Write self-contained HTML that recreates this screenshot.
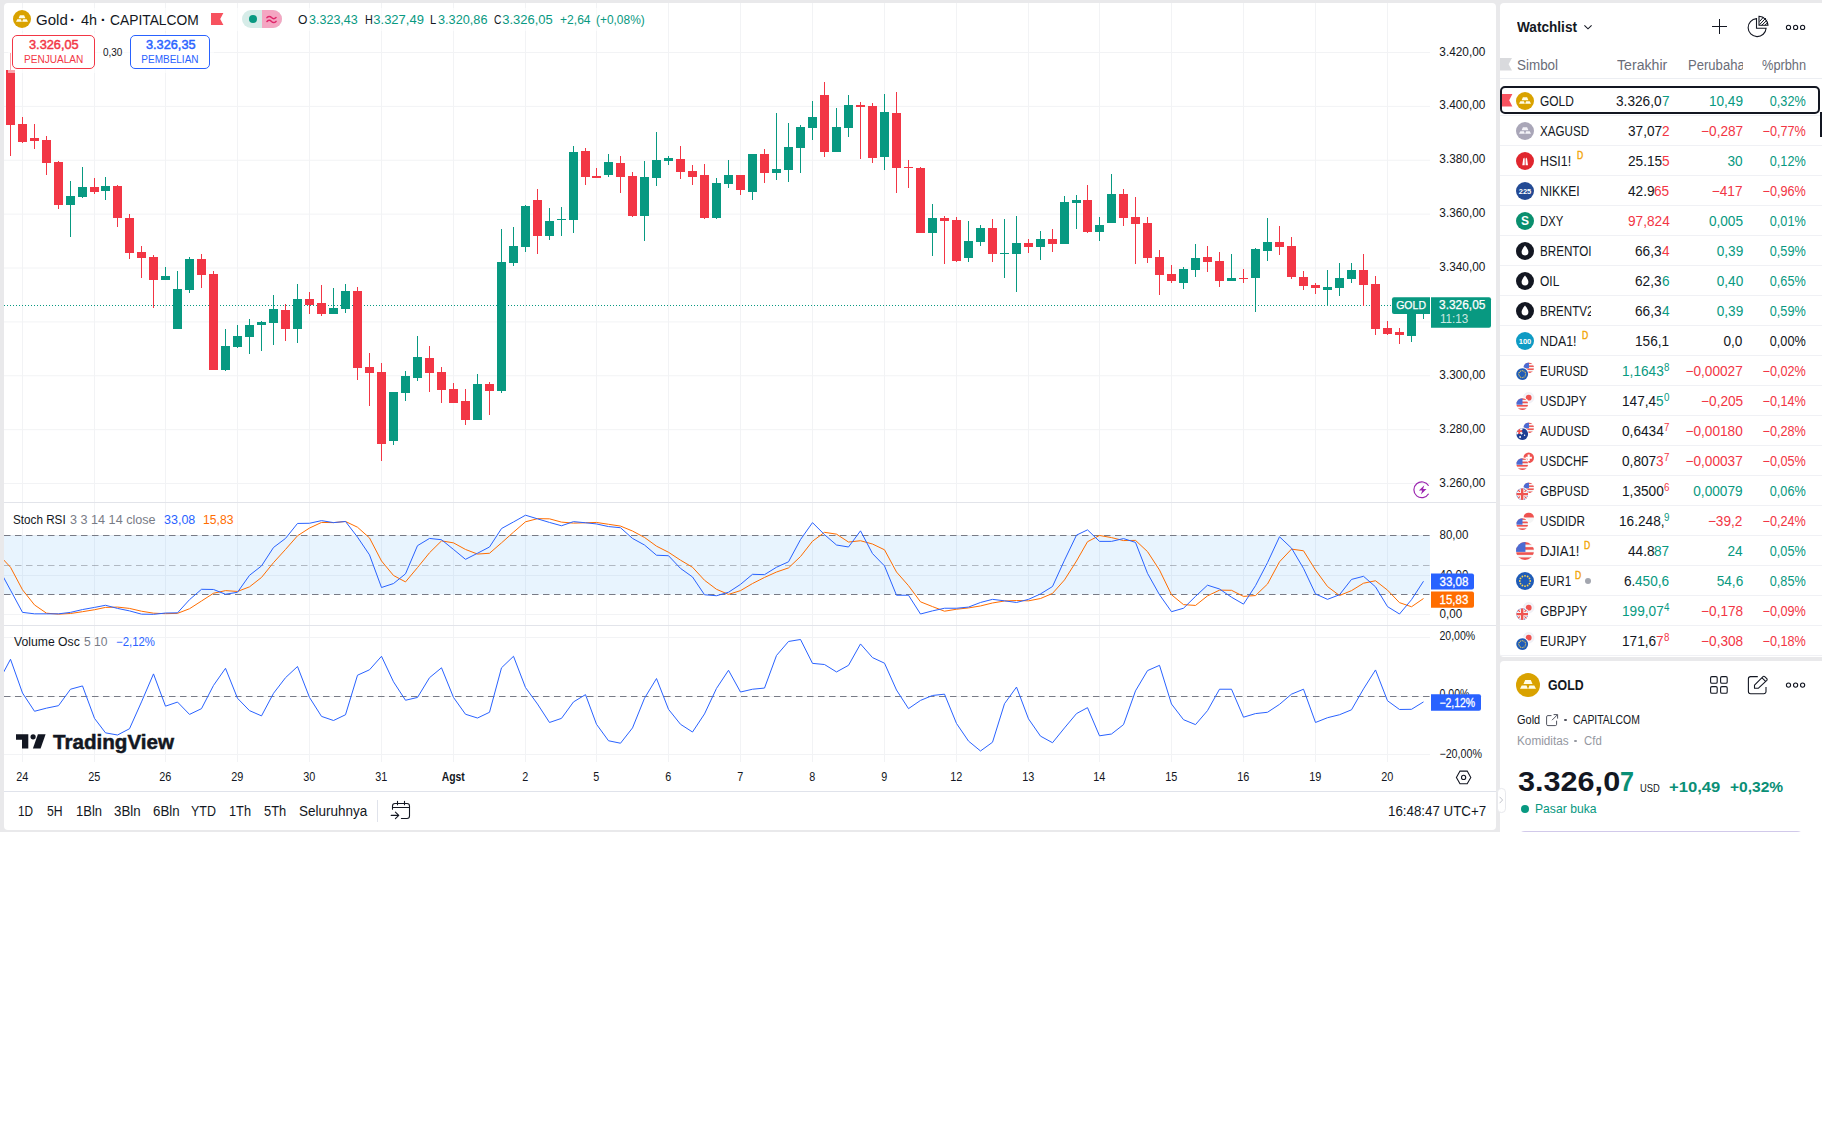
<!DOCTYPE html>
<html lang="id">
<head>
<meta charset="utf-8">
<title>GOLD 3.326,07 — TradingView</title>
<style>
*{box-sizing:border-box;margin:0;padding:0}
html,body{width:1822px;height:1133px;overflow:hidden;background:#fff}
body{font-family:"Liberation Sans",sans-serif;color:#131722;position:relative;font-size:14px}
svg text{font-family:"Liberation Sans",sans-serif}
.abs{position:absolute}
#frame{position:absolute;left:0;top:0;width:1822px;height:832px;background:#e9e9eb}
#chart{position:absolute;left:4px;top:3px;width:1492px;height:827px;background:#fff;border-radius:4px;overflow:hidden}
#plot{position:absolute;left:-4px;top:-3px;width:1822px;height:1133px}
#side{position:absolute;left:1500px;top:3px;width:322px;height:654px;background:#fff;border-radius:4px 0 0 4px;overflow:hidden}
#detail{position:absolute;left:1500px;top:661px;width:322px;height:171px;background:#fff;border-radius:4px 0 0 0;overflow:hidden}
.ov{position:absolute;left:-4px;top:-3px;width:1822px;height:1133px}
.t{position:absolute;white-space:nowrap;line-height:1;display:block}
.g{color:#089981}.r{color:#f23645}
</style>
</head>
<body>
<div id="frame"></div>

<div id="chart">
<svg id="plot" viewBox="0 0 1822 1133" shape-rendering="auto">
<line x1="4" x2="1430" y1="52.5" y2="52.5" stroke="#f2f3f5" stroke-width="1"/>
<line x1="4" x2="1430" y1="106.38" y2="106.38" stroke="#f2f3f5" stroke-width="1"/>
<line x1="4" x2="1430" y1="160.26" y2="160.26" stroke="#f2f3f5" stroke-width="1"/>
<line x1="4" x2="1430" y1="214.14" y2="214.14" stroke="#f2f3f5" stroke-width="1"/>
<line x1="4" x2="1430" y1="268.02" y2="268.02" stroke="#f2f3f5" stroke-width="1"/>
<line x1="4" x2="1430" y1="321.9" y2="321.9" stroke="#f2f3f5" stroke-width="1"/>
<line x1="4" x2="1430" y1="375.78" y2="375.78" stroke="#f2f3f5" stroke-width="1"/>
<line x1="4" x2="1430" y1="429.66" y2="429.66" stroke="#f2f3f5" stroke-width="1"/>
<line x1="4" x2="1430" y1="483.54" y2="483.54" stroke="#f2f3f5" stroke-width="1"/>
<line x1="22.5" x2="22.5" y1="3" y2="762" stroke="#f2f3f5" stroke-width="1"/>
<line x1="94.5" x2="94.5" y1="3" y2="762" stroke="#f2f3f5" stroke-width="1"/>
<line x1="165.5" x2="165.5" y1="3" y2="762" stroke="#f2f3f5" stroke-width="1"/>
<line x1="237.5" x2="237.5" y1="3" y2="762" stroke="#f2f3f5" stroke-width="1"/>
<line x1="309.5" x2="309.5" y1="3" y2="762" stroke="#f2f3f5" stroke-width="1"/>
<line x1="381.5" x2="381.5" y1="3" y2="762" stroke="#f2f3f5" stroke-width="1"/>
<line x1="453.5" x2="453.5" y1="3" y2="762" stroke="#f2f3f5" stroke-width="1"/>
<line x1="525.5" x2="525.5" y1="3" y2="762" stroke="#f2f3f5" stroke-width="1"/>
<line x1="596.5" x2="596.5" y1="3" y2="762" stroke="#f2f3f5" stroke-width="1"/>
<line x1="668.5" x2="668.5" y1="3" y2="762" stroke="#f2f3f5" stroke-width="1"/>
<line x1="740.5" x2="740.5" y1="3" y2="762" stroke="#f2f3f5" stroke-width="1"/>
<line x1="812.5" x2="812.5" y1="3" y2="762" stroke="#f2f3f5" stroke-width="1"/>
<line x1="884.5" x2="884.5" y1="3" y2="762" stroke="#f2f3f5" stroke-width="1"/>
<line x1="956.5" x2="956.5" y1="3" y2="762" stroke="#f2f3f5" stroke-width="1"/>
<line x1="1028.5" x2="1028.5" y1="3" y2="762" stroke="#f2f3f5" stroke-width="1"/>
<line x1="1099.5" x2="1099.5" y1="3" y2="762" stroke="#f2f3f5" stroke-width="1"/>
<line x1="1171.5" x2="1171.5" y1="3" y2="762" stroke="#f2f3f5" stroke-width="1"/>
<line x1="1243.5" x2="1243.5" y1="3" y2="762" stroke="#f2f3f5" stroke-width="1"/>
<line x1="1315.5" x2="1315.5" y1="3" y2="762" stroke="#f2f3f5" stroke-width="1"/>
<line x1="1387.5" x2="1387.5" y1="3" y2="762" stroke="#f2f3f5" stroke-width="1"/>
<line x1="4" x2="1430" y1="535.5" y2="535.5" stroke="#f2f3f5"/>
<line x1="4" x2="1430" y1="575.5" y2="575.5" stroke="#f2f3f5"/>
<line x1="4" x2="1430" y1="614.5" y2="614.5" stroke="#f2f3f5"/>
<line x1="4" x2="1430" y1="637.5" y2="637.5" stroke="#f2f3f5"/>
<line x1="4" x2="1430" y1="696.5" y2="696.5" stroke="#f2f3f5"/>
<line x1="4" x2="1430" y1="754.5" y2="754.5" stroke="#f2f3f5"/>
<rect x="4" y="535.5" width="1426" height="59.0" fill="#2196f3" fill-opacity="0.1"/>
<line x1="4" x2="1430" y1="535.5" y2="535.5" stroke="#787b86" stroke-dasharray="6.5 4.5"/>
<line x1="4" x2="1430" y1="594.5" y2="594.5" stroke="#787b86" stroke-dasharray="6.5 4.5"/>
<line x1="4" x2="1430" y1="565.5" y2="565.5" stroke="#787b86" stroke-opacity="0.5" stroke-dasharray="6.5 4.5"/>
<line x1="4" x2="1430" y1="696.5" y2="696.5" stroke="#787b86" stroke-dasharray="6.5 4.5"/>
<line x1="4" x2="1430" y1="305.5" y2="305.5" stroke="#089981" stroke-dasharray="1 2"/>
<rect x="10" y="53" width="1" height="103" fill="#f23645"/>
<rect x="6" y="70" width="9" height="55" fill="#f23645"/>
<rect x="22" y="117" width="1" height="26" fill="#f23645"/>
<rect x="18" y="124" width="9" height="18" fill="#f23645"/>
<rect x="34" y="124" width="1" height="25" fill="#f23645"/>
<rect x="30" y="138" width="9" height="3" fill="#f23645"/>
<rect x="46" y="136" width="1" height="39" fill="#f23645"/>
<rect x="42" y="140" width="9" height="23" fill="#f23645"/>
<rect x="58" y="161" width="1" height="48" fill="#f23645"/>
<rect x="54" y="162" width="9" height="43" fill="#f23645"/>
<rect x="70" y="181" width="1" height="56" fill="#089981"/>
<rect x="66" y="196" width="9" height="9" fill="#089981"/>
<rect x="82" y="167" width="1" height="31" fill="#089981"/>
<rect x="78" y="187" width="9" height="10" fill="#089981"/>
<rect x="94" y="178" width="1" height="16" fill="#f23645"/>
<rect x="90" y="187" width="9" height="5" fill="#f23645"/>
<rect x="105" y="177" width="1" height="23" fill="#089981"/>
<rect x="101" y="186" width="9" height="5" fill="#089981"/>
<rect x="117" y="185" width="1" height="42" fill="#f23645"/>
<rect x="113" y="186" width="9" height="32" fill="#f23645"/>
<rect x="129" y="214" width="1" height="45" fill="#f23645"/>
<rect x="125" y="218" width="9" height="35" fill="#f23645"/>
<rect x="141" y="246" width="1" height="32" fill="#f23645"/>
<rect x="137" y="252" width="9" height="6" fill="#f23645"/>
<rect x="153" y="255" width="1" height="53" fill="#f23645"/>
<rect x="149" y="257" width="9" height="23" fill="#f23645"/>
<rect x="165" y="267" width="1" height="13" fill="#089981"/>
<rect x="161" y="276" width="9" height="4" fill="#089981"/>
<rect x="177" y="271" width="1" height="58" fill="#089981"/>
<rect x="173" y="289" width="9" height="40" fill="#089981"/>
<rect x="189" y="257" width="1" height="36" fill="#089981"/>
<rect x="185" y="259" width="9" height="31" fill="#089981"/>
<rect x="201" y="254" width="1" height="34" fill="#f23645"/>
<rect x="197" y="259" width="9" height="16" fill="#f23645"/>
<rect x="213" y="271" width="1" height="99" fill="#f23645"/>
<rect x="209" y="274" width="9" height="96" fill="#f23645"/>
<rect x="225" y="329" width="1" height="42" fill="#089981"/>
<rect x="221" y="346" width="9" height="24" fill="#089981"/>
<rect x="237" y="325" width="1" height="23" fill="#089981"/>
<rect x="233" y="336" width="9" height="11" fill="#089981"/>
<rect x="249" y="319" width="1" height="35" fill="#089981"/>
<rect x="245" y="325" width="9" height="12" fill="#089981"/>
<rect x="261" y="321" width="1" height="30" fill="#089981"/>
<rect x="257" y="322" width="9" height="3" fill="#089981"/>
<rect x="273" y="295" width="1" height="50" fill="#089981"/>
<rect x="269" y="309" width="9" height="14" fill="#089981"/>
<rect x="285" y="304" width="1" height="37" fill="#f23645"/>
<rect x="281" y="310" width="9" height="19" fill="#f23645"/>
<rect x="297" y="284" width="1" height="59" fill="#089981"/>
<rect x="293" y="299" width="9" height="30" fill="#089981"/>
<rect x="309" y="292" width="1" height="22" fill="#f23645"/>
<rect x="305" y="299" width="9" height="6" fill="#f23645"/>
<rect x="321" y="285" width="1" height="31" fill="#f23645"/>
<rect x="317" y="303" width="9" height="11" fill="#f23645"/>
<rect x="333" y="288" width="1" height="26" fill="#089981"/>
<rect x="329" y="308" width="9" height="6" fill="#089981"/>
<rect x="345" y="284" width="1" height="29" fill="#089981"/>
<rect x="341" y="291" width="9" height="18" fill="#089981"/>
<rect x="357" y="287" width="1" height="93" fill="#f23645"/>
<rect x="353" y="291" width="9" height="77" fill="#f23645"/>
<rect x="369" y="353" width="1" height="53" fill="#f23645"/>
<rect x="365" y="367" width="9" height="6" fill="#f23645"/>
<rect x="381" y="363" width="1" height="98" fill="#f23645"/>
<rect x="377" y="372" width="9" height="72" fill="#f23645"/>
<rect x="393" y="392" width="1" height="53" fill="#089981"/>
<rect x="389" y="392" width="9" height="49" fill="#089981"/>
<rect x="405" y="371" width="1" height="30" fill="#089981"/>
<rect x="401" y="376" width="9" height="17" fill="#089981"/>
<rect x="417" y="336" width="1" height="45" fill="#089981"/>
<rect x="413" y="357" width="9" height="21" fill="#089981"/>
<rect x="429" y="346" width="1" height="46" fill="#f23645"/>
<rect x="425" y="358" width="9" height="15" fill="#f23645"/>
<rect x="441" y="367" width="1" height="36" fill="#f23645"/>
<rect x="437" y="372" width="9" height="18" fill="#f23645"/>
<rect x="453" y="383" width="1" height="20" fill="#f23645"/>
<rect x="449" y="389" width="9" height="14" fill="#f23645"/>
<rect x="465" y="389" width="1" height="36" fill="#f23645"/>
<rect x="461" y="401" width="9" height="19" fill="#f23645"/>
<rect x="477" y="374" width="1" height="46" fill="#089981"/>
<rect x="473" y="384" width="9" height="36" fill="#089981"/>
<rect x="489" y="382" width="1" height="33" fill="#f23645"/>
<rect x="485" y="384" width="9" height="7" fill="#f23645"/>
<rect x="501" y="229" width="1" height="164" fill="#089981"/>
<rect x="497" y="262" width="9" height="129" fill="#089981"/>
<rect x="513" y="227" width="1" height="39" fill="#089981"/>
<rect x="509" y="246" width="9" height="17" fill="#089981"/>
<rect x="525" y="205" width="1" height="47" fill="#089981"/>
<rect x="521" y="206" width="9" height="41" fill="#089981"/>
<rect x="537" y="189" width="1" height="65" fill="#f23645"/>
<rect x="533" y="200" width="9" height="36" fill="#f23645"/>
<rect x="549" y="208" width="1" height="32" fill="#089981"/>
<rect x="545" y="221" width="9" height="15" fill="#089981"/>
<rect x="561" y="207" width="1" height="29" fill="#089981"/>
<rect x="557" y="219" width="9" height="1" fill="#089981"/>
<rect x="573" y="146" width="1" height="87" fill="#089981"/>
<rect x="569" y="152" width="9" height="68" fill="#089981"/>
<rect x="585" y="148" width="1" height="37" fill="#f23645"/>
<rect x="581" y="151" width="9" height="26" fill="#f23645"/>
<rect x="596" y="168" width="1" height="10" fill="#f23645"/>
<rect x="592" y="176" width="9" height="2" fill="#f23645"/>
<rect x="608" y="154" width="1" height="23" fill="#089981"/>
<rect x="604" y="162" width="9" height="13" fill="#089981"/>
<rect x="620" y="156" width="1" height="37" fill="#f23645"/>
<rect x="616" y="163" width="9" height="14" fill="#f23645"/>
<rect x="632" y="172" width="1" height="45" fill="#f23645"/>
<rect x="628" y="176" width="9" height="40" fill="#f23645"/>
<rect x="644" y="161" width="1" height="80" fill="#089981"/>
<rect x="640" y="177" width="9" height="39" fill="#089981"/>
<rect x="656" y="132" width="1" height="54" fill="#089981"/>
<rect x="652" y="160" width="9" height="18" fill="#089981"/>
<rect x="668" y="156" width="1" height="9" fill="#089981"/>
<rect x="664" y="158" width="9" height="3" fill="#089981"/>
<rect x="680" y="146" width="1" height="33" fill="#f23645"/>
<rect x="676" y="159" width="9" height="13" fill="#f23645"/>
<rect x="692" y="165" width="1" height="20" fill="#f23645"/>
<rect x="688" y="171" width="9" height="6" fill="#f23645"/>
<rect x="704" y="164" width="1" height="55" fill="#f23645"/>
<rect x="700" y="175" width="9" height="43" fill="#f23645"/>
<rect x="716" y="178" width="1" height="41" fill="#089981"/>
<rect x="712" y="183" width="9" height="35" fill="#089981"/>
<rect x="728" y="160" width="1" height="28" fill="#089981"/>
<rect x="724" y="175" width="9" height="9" fill="#089981"/>
<rect x="740" y="175" width="1" height="20" fill="#f23645"/>
<rect x="736" y="175" width="9" height="15" fill="#f23645"/>
<rect x="752" y="154" width="1" height="46" fill="#089981"/>
<rect x="748" y="154" width="9" height="38" fill="#089981"/>
<rect x="764" y="149" width="1" height="34" fill="#f23645"/>
<rect x="760" y="154" width="9" height="19" fill="#f23645"/>
<rect x="776" y="113" width="1" height="67" fill="#089981"/>
<rect x="772" y="169" width="9" height="4" fill="#089981"/>
<rect x="788" y="123" width="1" height="59" fill="#089981"/>
<rect x="784" y="147" width="9" height="23" fill="#089981"/>
<rect x="800" y="125" width="1" height="48" fill="#089981"/>
<rect x="796" y="127" width="9" height="21" fill="#089981"/>
<rect x="812" y="101" width="1" height="39" fill="#089981"/>
<rect x="808" y="117" width="9" height="11" fill="#089981"/>
<rect x="824" y="82" width="1" height="75" fill="#f23645"/>
<rect x="820" y="95" width="9" height="57" fill="#f23645"/>
<rect x="836" y="108" width="1" height="44" fill="#089981"/>
<rect x="832" y="127" width="9" height="25" fill="#089981"/>
<rect x="848" y="95" width="1" height="42" fill="#089981"/>
<rect x="844" y="105" width="9" height="23" fill="#089981"/>
<rect x="860" y="102" width="1" height="57" fill="#f23645"/>
<rect x="856" y="105" width="9" height="2" fill="#f23645"/>
<rect x="872" y="103" width="1" height="60" fill="#f23645"/>
<rect x="868" y="106" width="9" height="52" fill="#f23645"/>
<rect x="884" y="94" width="1" height="76" fill="#089981"/>
<rect x="880" y="112" width="9" height="45" fill="#089981"/>
<rect x="896" y="92" width="1" height="101" fill="#f23645"/>
<rect x="892" y="113" width="9" height="55" fill="#f23645"/>
<rect x="908" y="160" width="1" height="28" fill="#f23645"/>
<rect x="904" y="167" width="9" height="1" fill="#f23645"/>
<rect x="920" y="167" width="1" height="66" fill="#f23645"/>
<rect x="916" y="168" width="9" height="65" fill="#f23645"/>
<rect x="932" y="204" width="1" height="52" fill="#089981"/>
<rect x="928" y="218" width="9" height="15" fill="#089981"/>
<rect x="944" y="216" width="1" height="48" fill="#f23645"/>
<rect x="940" y="218" width="9" height="3" fill="#f23645"/>
<rect x="956" y="217" width="1" height="45" fill="#f23645"/>
<rect x="952" y="220" width="9" height="41" fill="#f23645"/>
<rect x="968" y="221" width="1" height="41" fill="#089981"/>
<rect x="964" y="241" width="9" height="17" fill="#089981"/>
<rect x="980" y="225" width="1" height="21" fill="#089981"/>
<rect x="976" y="228" width="9" height="14" fill="#089981"/>
<rect x="992" y="219" width="1" height="43" fill="#f23645"/>
<rect x="988" y="228" width="9" height="26" fill="#f23645"/>
<rect x="1004" y="219" width="1" height="59" fill="#089981"/>
<rect x="1000" y="253" width="9" height="1" fill="#089981"/>
<rect x="1016" y="216" width="1" height="76" fill="#089981"/>
<rect x="1012" y="243" width="9" height="11" fill="#089981"/>
<rect x="1028" y="239" width="1" height="14" fill="#f23645"/>
<rect x="1024" y="243" width="9" height="4" fill="#f23645"/>
<rect x="1040" y="231" width="1" height="29" fill="#089981"/>
<rect x="1036" y="239" width="9" height="8" fill="#089981"/>
<rect x="1052" y="229" width="1" height="23" fill="#f23645"/>
<rect x="1048" y="239" width="9" height="5" fill="#f23645"/>
<rect x="1064" y="196" width="1" height="48" fill="#089981"/>
<rect x="1060" y="202" width="9" height="42" fill="#089981"/>
<rect x="1076" y="195" width="1" height="34" fill="#089981"/>
<rect x="1072" y="200" width="9" height="3" fill="#089981"/>
<rect x="1087" y="185" width="1" height="48" fill="#f23645"/>
<rect x="1083" y="200" width="9" height="32" fill="#f23645"/>
<rect x="1099" y="217" width="1" height="24" fill="#089981"/>
<rect x="1095" y="225" width="9" height="7" fill="#089981"/>
<rect x="1111" y="174" width="1" height="49" fill="#089981"/>
<rect x="1107" y="194" width="9" height="29" fill="#089981"/>
<rect x="1123" y="189" width="1" height="37" fill="#f23645"/>
<rect x="1119" y="194" width="9" height="24" fill="#f23645"/>
<rect x="1135" y="197" width="1" height="67" fill="#f23645"/>
<rect x="1131" y="217" width="9" height="7" fill="#f23645"/>
<rect x="1147" y="217" width="1" height="46" fill="#f23645"/>
<rect x="1143" y="223" width="9" height="35" fill="#f23645"/>
<rect x="1159" y="250" width="1" height="45" fill="#f23645"/>
<rect x="1155" y="257" width="9" height="18" fill="#f23645"/>
<rect x="1171" y="265" width="1" height="18" fill="#f23645"/>
<rect x="1167" y="274" width="9" height="7" fill="#f23645"/>
<rect x="1183" y="267" width="1" height="22" fill="#089981"/>
<rect x="1179" y="269" width="9" height="14" fill="#089981"/>
<rect x="1195" y="244" width="1" height="33" fill="#089981"/>
<rect x="1191" y="258" width="9" height="12" fill="#089981"/>
<rect x="1207" y="246" width="1" height="26" fill="#f23645"/>
<rect x="1203" y="257" width="9" height="5" fill="#f23645"/>
<rect x="1219" y="252" width="1" height="35" fill="#f23645"/>
<rect x="1215" y="261" width="9" height="20" fill="#f23645"/>
<rect x="1231" y="254" width="1" height="27" fill="#089981"/>
<rect x="1227" y="278" width="9" height="3" fill="#089981"/>
<rect x="1243" y="269" width="1" height="14" fill="#f23645"/>
<rect x="1239" y="278" width="9" height="1" fill="#f23645"/>
<rect x="1255" y="248" width="1" height="64" fill="#089981"/>
<rect x="1251" y="249" width="9" height="29" fill="#089981"/>
<rect x="1267" y="218" width="1" height="43" fill="#089981"/>
<rect x="1263" y="242" width="9" height="9" fill="#089981"/>
<rect x="1279" y="226" width="1" height="29" fill="#f23645"/>
<rect x="1275" y="242" width="9" height="5" fill="#f23645"/>
<rect x="1291" y="237" width="1" height="42" fill="#f23645"/>
<rect x="1287" y="246" width="9" height="31" fill="#f23645"/>
<rect x="1303" y="271" width="1" height="19" fill="#f23645"/>
<rect x="1299" y="277" width="9" height="9" fill="#f23645"/>
<rect x="1315" y="283" width="1" height="11" fill="#f23645"/>
<rect x="1311" y="285" width="9" height="3" fill="#f23645"/>
<rect x="1327" y="270" width="1" height="36" fill="#089981"/>
<rect x="1323" y="287" width="9" height="3" fill="#089981"/>
<rect x="1339" y="263" width="1" height="33" fill="#089981"/>
<rect x="1335" y="278" width="9" height="10" fill="#089981"/>
<rect x="1351" y="263" width="1" height="20" fill="#089981"/>
<rect x="1347" y="270" width="9" height="9" fill="#089981"/>
<rect x="1363" y="254" width="1" height="52" fill="#f23645"/>
<rect x="1359" y="270" width="9" height="15" fill="#f23645"/>
<rect x="1375" y="276" width="1" height="59" fill="#f23645"/>
<rect x="1371" y="284" width="9" height="45" fill="#f23645"/>
<rect x="1387" y="321" width="1" height="14" fill="#f23645"/>
<rect x="1383" y="328" width="9" height="6" fill="#f23645"/>
<rect x="1399" y="328" width="1" height="16" fill="#f23645"/>
<rect x="1395" y="332" width="9" height="3" fill="#f23645"/>
<rect x="1411" y="310" width="1" height="32" fill="#089981"/>
<rect x="1407" y="313" width="9" height="23" fill="#089981"/>
<rect x="1423" y="302" width="1" height="17" fill="#089981"/>
<rect x="1419" y="306" width="9" height="7" fill="#089981"/>
<polyline points="-1.5,554.4 10.5,567.24 22.5,589.8 34.5,604.95 46.5,613.18 58.5,614.17 70.5,613.51 82.5,611.7 94.5,609.73 105.5,607.42 117.5,607.09 129.5,608.41 141.5,611.21 153.5,613.18 165.5,613.68 177.5,613.35 189.5,608.74 201.5,601 213.5,593.26 225.5,590.62 237.5,591.45 249.5,586.84 261.5,577.45 273.5,562.63 285.5,549.46 297.5,535.79 309.5,528.05 321.5,522.45 333.5,522.62 345.5,521.47 357.5,527.23 369.5,537.93 381.5,560.99 393.5,575.48 405.5,581.9 417.5,567.57 429.5,552.75 441.5,540.9 453.5,542.87 465.5,549.46 477.5,554.07 489.5,553.25 501.5,542.87 513.5,532.17 525.5,521.8 537.5,518.67 549.5,518.83 561.5,522.12 573.5,523.11 585.5,522.78 596.5,522.45 608.5,524.27 620.5,526.08 632.5,531.02 644.5,537.44 656.5,546.17 668.5,552.26 680.5,560.16 692.5,567.24 704.5,580.25 716.5,589.31 728.5,594.41 740.5,590.62 752.5,583.54 764.5,577.45 776.5,572.02 788.5,567.9 800.5,556.54 812.5,541.23 824.5,532.33 836.5,534.15 848.5,542.05 860.5,540.73 872.5,544.03 884.5,549.79 896.5,572.02 908.5,585.68 920.5,601.82 932.5,606.6 944.5,611.21 956.5,609.23 968.5,607.91 980.5,605.94 992.5,602.97 1004.5,601 1016.5,600.5 1028.5,600.83 1040.5,598.53 1052.5,593.42 1064.5,579.92 1076.5,560.99 1087.5,541.72 1099.5,535.46 1111.5,537.6 1123.5,540.57 1135.5,540.4 1147.5,551.6 1159.5,570.04 1171.5,594.74 1183.5,604.62 1195.5,605.44 1207.5,595.89 1219.5,590.13 1231.5,590.3 1243.5,596.39 1255.5,595.56 1267.5,584.04 1279.5,561.81 1291.5,549.13 1303.5,550.78 1315.5,570.04 1327.5,586.51 1339.5,595.56 1351.5,590.62 1363.5,583.22 1375.5,580.75 1387.5,590.13 1399.5,602.65 1411.5,606.76 1423.5,598.53" fill="none" stroke="#ff6d00" stroke-width="1.0" stroke-linejoin="round"/>
<polyline points="-1.5,568.07 10.5,590.13 22.5,612.36 34.5,613.84 46.5,613.84 58.5,613.84 70.5,612.36 82.5,609.56 94.5,607.42 105.5,605.28 117.5,608.41 129.5,610.88 141.5,614.17 153.5,614.34 165.5,613.02 177.5,612.85 189.5,599.68 201.5,589.31 213.5,589.47 225.5,594.25 237.5,592.27 249.5,575.31 261.5,565.93 273.5,547.48 285.5,538.43 297.5,523.44 309.5,523.28 321.5,520.64 333.5,522.62 345.5,521.47 357.5,537.11 369.5,554.89 381.5,587.5 393.5,583.54 405.5,573.83 417.5,545.67 429.5,538.43 441.5,539.74 453.5,549.46 465.5,559.34 477.5,553.25 489.5,546.99 501.5,528.55 513.5,521.96 525.5,515.21 537.5,518.83 549.5,522.45 561.5,525.75 573.5,521.63 585.5,522.78 596.5,523.94 608.5,526.57 620.5,527.72 632.5,538.43 644.5,545.01 656.5,555.22 668.5,555.72 680.5,568.4 692.5,576.96 704.5,594.74 716.5,595.73 728.5,592.27 740.5,584.37 752.5,574.32 764.5,574.65 776.5,567.24 788.5,561.81 800.5,539.58 812.5,522.62 824.5,534.64 836.5,545.01 848.5,546.99 860.5,530.85 872.5,553.58 884.5,565.93 896.5,595.24 908.5,595.24 920.5,614.01 932.5,610.88 944.5,608.24 956.5,608.24 968.5,607.09 980.5,602.48 992.5,599.35 1004.5,600.83 1016.5,602.48 1028.5,599.35 1040.5,593.92 1052.5,586.51 1064.5,560.16 1076.5,535.13 1087.5,529.86 1099.5,541.39 1111.5,541.39 1123.5,538.59 1135.5,542.38 1147.5,573.34 1159.5,594.74 1171.5,611.7 1183.5,608.24 1195.5,596.39 1207.5,585.19 1219.5,588.98 1231.5,597.21 1243.5,604.13 1255.5,585.68 1267.5,562.63 1279.5,536.78 1291.5,548.14 1303.5,568.4 1315.5,593.92 1327.5,599.35 1339.5,594.74 1351.5,579.43 1363.5,576.3 1375.5,586.84 1387.5,606.6 1399.5,614.01 1411.5,599.68 1423.5,581.24" fill="none" stroke="#2962ff" stroke-width="1.0" stroke-linejoin="round"/>
<polyline points="-1.5,681.81 10.5,659.25 22.5,693.01 34.5,711.28 46.5,708.15 58.5,705.68 70.5,689.22 82.5,685.93 94.5,718.36 105.5,732.85 117.5,735 129.5,728.74 141.5,701.9 153.5,673.9 165.5,706.18 177.5,702.06 189.5,714.41 201.5,708.65 213.5,685.43 225.5,668.31 237.5,698.28 249.5,710.62 261.5,715.89 273.5,693.34 285.5,677.69 297.5,666.5 309.5,697.45 321.5,716.39 333.5,720.5 345.5,714.74 357.5,675.22 369.5,669.79 381.5,656.29 393.5,681.81 405.5,700.25 417.5,697.45 429.5,677.69 441.5,667.81 453.5,697.45 465.5,714.25 477.5,718.03 489.5,712.27 501.5,667.81 513.5,656.29 525.5,687.57 537.5,704.04 549.5,722.48 561.5,718.36 573.5,701.9 585.5,694.65 596.5,724.29 608.5,740.76 620.5,743.23 632.5,727.91 644.5,698.28 656.5,678.52 668.5,709.31 680.5,724.29 692.5,732.03 704.5,713.92 716.5,688.4 728.5,670.28 740.5,692.02 752.5,689.22 764.5,688.07 776.5,655.46 788.5,641.47 800.5,639.49 812.5,663.37 824.5,664.52 836.5,671.93 848.5,665.34 860.5,643.94 872.5,657.6 884.5,663.2 896.5,690.04 908.5,708.65 920.5,700.42 932.5,695.48 944.5,694.16 956.5,723.47 968.5,741.09 980.5,750.97 992.5,742.24 1004.5,703.71 1016.5,687.08 1028.5,718.86 1040.5,736.15 1052.5,742.73 1064.5,727.91 1076.5,713.59 1087.5,707.66 1099.5,735.82 1111.5,734.01 1123.5,724.62 1135.5,690.87 1147.5,670.61 1159.5,665.34 1171.5,704.04 1183.5,719.68 1195.5,724.62 1207.5,710.62 1219.5,689.22 1231.5,689.22 1243.5,717.21 1255.5,713.59 1267.5,712.27 1279.5,704.37 1291.5,694.16 1303.5,689.22 1315.5,722.48 1327.5,717.71 1339.5,714.74 1351.5,709.8 1363.5,688.89 1375.5,669.95 1387.5,700.75 1399.5,709.47 1411.5,709.31 1423.5,701.9" fill="none" stroke="#2962ff" stroke-width="1.0" stroke-linejoin="round"/>
<rect x="4" y="3" width="700" height="70" fill="#fff" fill-opacity="0.0"/>
<text x="1439.3" y="55.5" font-size="12" fill="#131722" textLength="46.1" lengthAdjust="spacingAndGlyphs">3.420,00</text>
<text x="1439.3" y="109.38" font-size="12" fill="#131722" textLength="46.1" lengthAdjust="spacingAndGlyphs">3.400,00</text>
<text x="1439.3" y="163.26" font-size="12" fill="#131722" textLength="46.1" lengthAdjust="spacingAndGlyphs">3.380,00</text>
<text x="1439.3" y="217.14" font-size="12" fill="#131722" textLength="46.1" lengthAdjust="spacingAndGlyphs">3.360,00</text>
<text x="1439.3" y="271.02" font-size="12" fill="#131722" textLength="46.1" lengthAdjust="spacingAndGlyphs">3.340,00</text>
<text x="1439.3" y="378.78" font-size="12" fill="#131722" textLength="46.1" lengthAdjust="spacingAndGlyphs">3.300,00</text>
<text x="1439.3" y="432.66" font-size="12" fill="#131722" textLength="46.1" lengthAdjust="spacingAndGlyphs">3.280,00</text>
<text x="1439.3" y="486.54" font-size="12" fill="#131722" textLength="46.1" lengthAdjust="spacingAndGlyphs">3.260,00</text>
<text x="1439.5" y="538.8" font-size="12" fill="#131722" textLength="28.8" lengthAdjust="spacingAndGlyphs">80,00</text>
<text x="1439.5" y="579" font-size="12" fill="#131722" textLength="28.8" lengthAdjust="spacingAndGlyphs">40,00</text>
<text x="1439.5" y="617.9" font-size="12" fill="#131722" textLength="22.6" lengthAdjust="spacingAndGlyphs">0,00</text>
<text x="1439.4" y="640" font-size="12" fill="#131722" textLength="35.8" lengthAdjust="spacingAndGlyphs">20,00%</text>
<text x="1439.5" y="698" font-size="12" fill="#131722" textLength="30" lengthAdjust="spacingAndGlyphs">0,00%</text>
<text x="1439.4" y="758.2" font-size="12" fill="#131722" textLength="42.5" lengthAdjust="spacingAndGlyphs">−20,00%</text>
<text x="22.2" y="781" font-size="12" fill="#131722" text-anchor="middle" textLength="12.1" lengthAdjust="spacingAndGlyphs">24</text>
<text x="94.2" y="781" font-size="12" fill="#131722" text-anchor="middle" textLength="12.1" lengthAdjust="spacingAndGlyphs">25</text>
<text x="165.2" y="781" font-size="12" fill="#131722" text-anchor="middle" textLength="12.1" lengthAdjust="spacingAndGlyphs">26</text>
<text x="237.2" y="781" font-size="12" fill="#131722" text-anchor="middle" textLength="12.1" lengthAdjust="spacingAndGlyphs">29</text>
<text x="309.2" y="781" font-size="12" fill="#131722" text-anchor="middle" textLength="12.1" lengthAdjust="spacingAndGlyphs">30</text>
<text x="381.2" y="781" font-size="12" fill="#131722" text-anchor="middle" textLength="12.1" lengthAdjust="spacingAndGlyphs">31</text>
<text x="453.2" y="781" font-size="12" fill="#131722" font-weight="bold" text-anchor="middle" textLength="23" lengthAdjust="spacingAndGlyphs">Agst</text>
<text x="525.2" y="781" font-size="12" fill="#131722" text-anchor="middle" textLength="6" lengthAdjust="spacingAndGlyphs">2</text>
<text x="596.2" y="781" font-size="12" fill="#131722" text-anchor="middle" textLength="6" lengthAdjust="spacingAndGlyphs">5</text>
<text x="668.2" y="781" font-size="12" fill="#131722" text-anchor="middle" textLength="6" lengthAdjust="spacingAndGlyphs">6</text>
<text x="740.2" y="781" font-size="12" fill="#131722" text-anchor="middle" textLength="6" lengthAdjust="spacingAndGlyphs">7</text>
<text x="812.2" y="781" font-size="12" fill="#131722" text-anchor="middle" textLength="6" lengthAdjust="spacingAndGlyphs">8</text>
<text x="884.2" y="781" font-size="12" fill="#131722" text-anchor="middle" textLength="6" lengthAdjust="spacingAndGlyphs">9</text>
<text x="956.2" y="781" font-size="12" fill="#131722" text-anchor="middle" textLength="12.1" lengthAdjust="spacingAndGlyphs">12</text>
<text x="1028.2" y="781" font-size="12" fill="#131722" text-anchor="middle" textLength="12.1" lengthAdjust="spacingAndGlyphs">13</text>
<text x="1099.2" y="781" font-size="12" fill="#131722" text-anchor="middle" textLength="12.1" lengthAdjust="spacingAndGlyphs">14</text>
<text x="1171.2" y="781" font-size="12" fill="#131722" text-anchor="middle" textLength="12.1" lengthAdjust="spacingAndGlyphs">15</text>
<text x="1243.2" y="781" font-size="12" fill="#131722" text-anchor="middle" textLength="12.1" lengthAdjust="spacingAndGlyphs">16</text>
<text x="1315.2" y="781" font-size="12" fill="#131722" text-anchor="middle" textLength="12.1" lengthAdjust="spacingAndGlyphs">19</text>
<text x="1387.2" y="781" font-size="12" fill="#131722" text-anchor="middle" textLength="12.1" lengthAdjust="spacingAndGlyphs">20</text>
<rect x="4" y="502" width="1492" height="1" fill="#e2e4ea"/>
<rect x="4" y="625" width="1492" height="1" fill="#e2e4ea"/>
<path d="M1394 297.3h36v16.6h-36a2 2 0 0 1-2-2v-12.6a2 2 0 0 1 2-2z" fill="#089981"/>
<text x="1396.2" y="309.3" font-size="11.5" fill="#fff" textLength="29.8" lengthAdjust="spacingAndGlyphs" stroke="#fff" stroke-width="0.25">GOLD</text>
<path d="M1431 297.3h58a2 2 0 0 1 2 2v26.5a2 2 0 0 1-2 2h-58z" fill="#089981"/>
<text x="1439" y="308.6" font-size="12" fill="#fff" textLength="46.4" lengthAdjust="spacingAndGlyphs" stroke="#fff" stroke-width="0.25">3.326,05</text>
<text x="1439.9" y="322.8" font-size="12" fill="#fff" textLength="28.3" lengthAdjust="spacingAndGlyphs" fill-opacity="0.8">11:13</text>
<path d="M1431 573.4h41a2 2 0 0 1 2 2v12.2a2 2 0 0 1-2 2h-41z" fill="#2962ff"/>
<text x="1439.5" y="585.8" font-size="12" fill="#fff" textLength="28.8" lengthAdjust="spacingAndGlyphs" stroke="#fff" stroke-width="0.3">33,08</text>
<path d="M1431 591.4h41a2 2 0 0 1 2 2v12.4a2 2 0 0 1-2 2h-41z" fill="#ff6d00"/>
<text x="1439.5" y="603.9" font-size="12" fill="#fff" textLength="28.8" lengthAdjust="spacingAndGlyphs" stroke="#fff" stroke-width="0.3">15,83</text>
<path d="M1431 694.2h48a2 2 0 0 1 2 2v12.6a2 2 0 0 1-2 2h-48z" fill="#2962ff"/>
<text x="1439.4" y="706.7" font-size="12" fill="#fff" textLength="35.8" lengthAdjust="spacingAndGlyphs" stroke="#fff" stroke-width="0.3">−2,12%</text>
<g fill="none" stroke="#9c27b0" stroke-width="1.2"><path d="M1428.6 485.8a7.9 7.9 0 1 0 0 8" /></g>
<path d="M1424.3 485.3l-5.4 5.2h3.3l-1.3 3.9 5.6-5.4h-3.4z" fill="#9c27b0"/>
<g fill="none" stroke="#131722" stroke-width="1.1"><path d="M1460 771.1h7.2l3.6 6.3-3.6 6.3h-7.2l-3.6-6.3z"/><circle cx="1463.6" cy="777.4" r="2.1"/></g>
</svg>
<div class="ov">
<div class="abs" style="left:8px;top:8px;width:640px;height:23px;background:rgba(255,255,255,.55)"></div>
<div class="abs" style="left:8px;top:33px;width:206px;height:40px;background:rgba(255,255,255,.55)"></div>
<svg class="abs" style="left:13px;top:10px" width="18" height="18" viewBox="0 0 18 18"><circle cx="9" cy="9" r="9" fill="#d9a200"/><path d="M6.9 5.2h4.2l1.3 3H5.6zM4.3 9.3h3.6l1 2.5H3zM10.1 9.3h3.6l1.3 2.5H9.1z" fill="#fffde7"/></svg>
<span class="t" style="left:35.5px;top:12.179px;font-size:15.5px;transform:scaleX(0.971);transform-origin:0 0">Gold</span>
<span class="t" style="left:69.9px;top:12.179px;font-size:15.5px;font-weight:bold">·</span>
<span class="t" style="left:80.5px;top:12.179px;font-size:15.5px;transform:scaleX(0.928);transform-origin:0 0">4h</span>
<span class="t" style="left:100.7px;top:12.179px;font-size:15.5px;font-weight:bold">·</span>
<span class="t" style="left:109.8px;top:12.179px;font-size:15.5px;transform:scaleX(0.891);transform-origin:0 0">CAPITALCOM</span>
<svg class="abs" style="left:211px;top:13px" width="13" height="12" viewBox="0 0 13 12"><path d="M0 0h12.4L9.2 6l3.2 6H0z" fill="#f7525f"/></svg>
<div class="abs" style="left:242.4px;top:10.3px;width:39.6px;height:17.4px;border-radius:9px;overflow:hidden;background:#d6ece8"><div class="abs" style="left:19.7px;top:0;width:20px;height:17.4px;background:#f4a6c2"></div><div class="abs" style="left:6.5px;top:4.7px;width:8px;height:8px;border-radius:50%;background:#089981"></div><svg class="abs" style="left:24px;top:4px" width="11" height="10" viewBox="0 0 11 10"><path d="M1 3.6c1.5-1.6 3-1.6 4.5 0s3 1.6 4.5 0M1 7.4c1.5-1.6 3-1.6 4.5 0s3 1.6 4.5 0" fill="none" stroke="#e0286b" stroke-width="1.5" stroke-linecap="round"/></svg></div>
<span class="t" style="left:297.6px;top:12.695px;font-size:13px;transform:scaleX(0.93);transform-origin:0 0">O</span>
<span class="t" style="left:308.5px;top:12.695px;font-size:13px;transform:scaleX(0.964);transform-origin:0 0;color:#089981">3.323,43</span>
<span class="t" style="left:364.5px;top:12.695px;font-size:13px;transform:scaleX(0.831);transform-origin:0 0">H</span>
<span class="t" style="left:373.3px;top:12.695px;font-size:13px;color:#089981">3.327,49</span>
<span class="t" style="left:430.4px;top:12.695px;font-size:13px;transform:scaleX(0.858);transform-origin:0 0">L</span>
<span class="t" style="left:438px;top:12.695px;font-size:13px;transform:scaleX(0.978);transform-origin:0 0;color:#089981">3.320,86</span>
<span class="t" style="left:494px;top:12.695px;font-size:13px;transform:scaleX(0.788);transform-origin:0 0">C</span>
<span class="t" style="left:502.2px;top:12.695px;font-size:13px;color:#089981">3.326,05</span>
<span class="t" style="left:560px;top:12.695px;font-size:13px;transform:scaleX(0.93);transform-origin:0 0;color:#089981">+2,64</span>
<span class="t" style="left:595.7px;top:12.695px;font-size:13px;transform:scaleX(0.917);transform-origin:0 0;color:#089981">(+0,08%)</span>
<div class="abs" style="left:12.3px;top:35.3px;width:82.4px;height:33.5px;border:1px solid #f23645;border-radius:5px;background:#fff"></div>
<span class="t" style="left:28.6px;top:39.019px;font-size:12.5px;transform:scaleX(1.021);transform-origin:0 0;color:#f23645;-webkit-text-stroke:0.45px #f23645">3.326,05</span>
<span class="t" style="left:23.6px;top:54.735px;font-size:10px;transform:scaleX(1.008);transform-origin:0 0;color:#f23645">PENJUALAN</span>
<span class="t" style="left:102.5px;top:47.312px;font-size:10.5px;transform:scaleX(0.949);transform-origin:0 0">0,30</span>
<div class="abs" style="left:130.4px;top:35.3px;width:79.4px;height:33.5px;border:1px solid #2962ff;border-radius:5px;background:#fff"></div>
<span class="t" style="left:145.5px;top:39.019px;font-size:12.5px;transform:scaleX(1.019);transform-origin:0 0;color:#2962ff;-webkit-text-stroke:0.45px #2962ff">3.326,35</span>
<span class="t" style="left:141.3px;top:54.735px;font-size:10px;color:#2962ff">PEMBELIAN</span>
<span class="t" style="left:13.2px;top:514.042px;font-size:12px;transform:scaleX(0.975);transform-origin:0 0">Stoch RSI</span>
<span class="t" style="left:69.7px;top:514.042px;font-size:12px;transform:scaleX(1.052);transform-origin:0 0;color:#787b86">3 3 14 14 close</span>
<span class="t" style="left:164.2px;top:514.042px;font-size:12px;transform:scaleX(1.042);transform-origin:0 0;color:#2962ff">33,08</span>
<span class="t" style="left:202.9px;top:514.042px;font-size:12px;transform:scaleX(1.012);transform-origin:0 0;color:#ff6d00">15,83</span>
<span class="t" style="left:13.7px;top:636.242px;font-size:12px;transform:scaleX(1.017);transform-origin:0 0">Volume Osc</span>
<span class="t" style="left:83.5px;top:636.242px;font-size:12px;transform:scaleX(1.006);transform-origin:0 0;color:#787b86">5 10</span>
<span class="t" style="left:116.1px;top:636.242px;font-size:12px;transform:scaleX(0.95);transform-origin:0 0;color:#2962ff">−2,12%</span>
<svg class="abs" style="left:16px;top:734px" width="30" height="15" viewBox="0 0 30 15"><path d="M0 0.3h12.3v14.3H6V5.8H0z" fill="#131722"/><circle cx="17.1" cy="2.8" r="2.6" fill="#131722"/><path d="M21.9 0.3h7.7l-5 14.3h-7.7z" fill="#131722"/></svg>
<span class="t" style="left:53.3px;top:731.77px;font-size:20px;transform:scaleX(1.03);transform-origin:0 0;font-weight:bold;-webkit-text-stroke:0.5px #131722">TradingView</span>
<div class="abs" style="left:4px;top:791px;width:1492px;height:1px;background:#e0e3eb"></div>
<span class="t" style="left:18.4px;top:804.149px;font-size:14px;transform:scaleX(0.844);transform-origin:0 0">1D</span>
<span class="t" style="left:46.7px;top:804.149px;font-size:14px;transform:scaleX(0.872);transform-origin:0 0">5H</span>
<span class="t" style="left:75.5px;top:804.149px;font-size:14px;transform:scaleX(0.928);transform-origin:0 0">1Bln</span>
<span class="t" style="left:113.9px;top:804.149px;font-size:14px;transform:scaleX(0.949);transform-origin:0 0">3Bln</span>
<span class="t" style="left:152.9px;top:804.149px;font-size:14px;transform:scaleX(0.949);transform-origin:0 0">6Bln</span>
<span class="t" style="left:191.3px;top:804.149px;font-size:14px;transform:scaleX(0.889);transform-origin:0 0">YTD</span>
<span class="t" style="left:229.1px;top:804.149px;font-size:14px;transform:scaleX(0.912);transform-origin:0 0">1Th</span>
<span class="t" style="left:264px;top:804.149px;font-size:14px;transform:scaleX(0.92);transform-origin:0 0">5Th</span>
<span class="t" style="left:298.6px;top:804.149px;font-size:14px;transform:scaleX(0.964);transform-origin:0 0">Seluruhnya</span>
<div class="abs" style="left:377px;top:800px;width:1px;height:22px;background:#e0e3eb"></div>
<svg class="abs" style="left:389px;top:799px" width="24" height="22" viewBox="389 799 24 22" fill="none" stroke="#131722" stroke-width="1.1" stroke-linecap="round" stroke-linejoin="round"><path d="M392.5 809.3V806a2.5 2.5 0 0 1 2.5-2.5h12a2.5 2.5 0 0 1 2.5 2.5v10a2.5 2.5 0 0 1-2.5 2.5h-5.6M392.5 807.5h17M397.5 801.2v3.6M404.5 801.2v3.6M391.2 815.4h7.4M395.4 812.1l3.4 3.3-3.4 3.3"/></svg>
<span class="t" style="left:1388px;top:804.049px;font-size:14px;transform:scaleX(0.952);transform-origin:0 0">16:48:47 UTC+7</span>
</div>
</div>

<div id="side"><div class="ov" style="left:-1500px">
<span class="t" style="left:1516.5px;top:19.949px;font-size:14px;transform:scaleX(0.972);transform-origin:0 0;font-weight:bold">Watchlist</span>
<svg class="abs" style="left:1583px;top:23px" width="10" height="8" viewBox="0 0 10 8"><path d="M1.4 2.4L5 5.8l3.6-3.4" fill="none" stroke="#131722" stroke-width="1.1"/></svg>
<svg class="abs" style="left:1711px;top:18px" width="18" height="18" viewBox="0 0 18 18"><path d="M8.5 1v15M1 8.5h15" stroke="#131722" stroke-width="1" shape-rendering="crispEdges"/></svg>
<svg class="abs" style="left:1745.7px;top:14px" width="26" height="24" viewBox="1745 15 26 24" fill="none" stroke="#131722" stroke-width="1.1"><path d="M1755.5 19.6a9 9 0 1 0 9.6 9.6h-9.6z"/><path d="M1758 17.3a9.4 9.4 0 0 1 9 9h-9z"/><path d="M1758.6 22.5l4-4.6M1758.6 25.6l6.3-6.6M1760.6 26.4l5.6-5.4M1763.7 26.4l3-2.8" stroke-width="1"/></svg>
<svg class="abs" style="left:1784px;top:22px" width="24" height="11" viewBox="1784 22 24 11" fill="none" stroke="#131722" stroke-width="1.1"><circle cx="1788.5" cy="27.4" r="2.1"/><circle cx="1795.6" cy="27.4" r="2.1"/><circle cx="1802.6" cy="27.4" r="2.1"/></svg>
<svg class="abs" style="left:1500px;top:58px" width="12" height="13" viewBox="0 0 12 13"><path d="M0 0h12L8.6 6.3 12 12.6H0z" fill="#d9dadd"/></svg>
<span class="t" style="left:1516.5px;top:57.649px;font-size:14px;transform:scaleX(0.96);transform-origin:0 0;color:#6a6d78">Simbol</span>
<span class="t" style="left:1617.1px;top:57.649px;font-size:14px;transform:scaleX(1.01);transform-origin:0 0;color:#6a6d78">Terakhir</span>
<div class="abs" style="left:1687.5px;top:54px;width:55.5px;height:22px;overflow:hidden"><span class="t" style="left:0px;top:3.649px;font-size:14px;transform:scaleX(0.934);transform-origin:0 0;color:#6a6d78">Perubahan</span></div>
<span class="t" style="left:1762.2px;top:57.649px;font-size:14px;transform:scaleX(0.914);transform-origin:0 0;color:#6a6d78">%prbhn</span>
<div class="abs" style="left:1500px;top:78px;width:322px;height:1px;background:#eceef2"></div>
<div class="abs" style="left:1500px;top:115px;width:322px;height:1px;background:#f0f1f5"></div>
<svg class="abs" style="left:1516px;top:92px" width="18" height="18" viewBox="0 0 18 18"><circle cx="9" cy="9" r="9" fill="#d9a200"/><path d="M6.9 5.2h4.2l1.3 3H5.6zM4.3 9.3h3.6l1 2.5H3zM10.1 9.3h3.6l1.3 2.5H9.1z" fill="#fffde7"/></svg>
<div class="abs" style="left:1540px;top:91px;width:51.3px;height:20px;overflow:hidden"><span class="t" style="left:0.2px;top:2.749px;font-size:14px;transform:scaleX(0.854);transform-origin:0 0">GOLD</span></div>
<span class="t" style="left:1616.367px;top:93.749px;font-size:14px;transform:scaleX(0.975);transform-origin:0 0;color:#131722">3.326,0</span>
<span class="t" style="left:1661.909px;top:93.749px;font-size:14px;transform:scaleX(0.975);transform-origin:0 0;color:#089981">7</span>
<span class="t" style="left:1707.766px;top:93.749px;font-size:14px;transform:scaleX(0.975);transform-origin:100% 0;color:#089981">10,49</span>
<span class="t" style="left:1766.204px;top:93.749px;font-size:14px;transform:scaleX(0.905);transform-origin:100% 0;color:#089981">0,32%</span>
<div class="abs" style="left:1500px;top:145px;width:322px;height:1px;background:#f0f1f5"></div>
<svg class="abs" style="left:1516px;top:122px" width="18" height="18" viewBox="0 0 18 18"><circle cx="9" cy="9" r="9" fill="#a9a6b8"/><path d="M6.9 5.2h4.2l1.3 3H5.6zM4.3 9.3h3.6l1 2.5H3zM10.1 9.3h3.6l1.3 2.5H9.1z" fill="#f4f3f8"/></svg>
<div class="abs" style="left:1540px;top:121px;width:51.3px;height:20px;overflow:hidden"><span class="t" style="left:0.2px;top:2.749px;font-size:14px;transform:scaleX(0.829);transform-origin:0 0">XAGUSD</span></div>
<span class="t" style="left:1627.751px;top:123.749px;font-size:14px;transform:scaleX(0.975);transform-origin:0 0;color:#131722">37,07</span>
<span class="t" style="left:1661.909px;top:123.749px;font-size:14px;transform:scaleX(0.975);transform-origin:0 0;color:#f23645">2</span>
<span class="t" style="left:1699.591px;top:123.749px;font-size:14px;transform:scaleX(0.975);transform-origin:100% 0;color:#f23645">−0,287</span>
<span class="t" style="left:1758.028px;top:123.749px;font-size:14px;transform:scaleX(0.905);transform-origin:100% 0;color:#f23645">−0,77%</span>
<div class="abs" style="left:1500px;top:175px;width:322px;height:1px;background:#f0f1f5"></div>
<svg class="abs" style="left:1516px;top:152px" width="18" height="18" viewBox="0 0 18 18"><circle cx="9" cy="9" r="9" fill="#e0262e"/><path d="M6.3 13.2l.9-6.4 1-1.3.5 1.4v6.3zM9.6 13.2V6.9l.5-1.4 1 1.3.9 6.4z" fill="#fff"/></svg>
<div class="abs" style="left:1540px;top:151px;width:51.3px;height:20px;overflow:hidden"><span class="t" style="left:0.2px;top:2.749px;font-size:14px;transform:scaleX(0.891);transform-origin:0 0">HSI1!</span></div>
<span class="t" style="left:1577px;top:150.635px;font-size:10px;transform:scaleX(0.859);transform-origin:0 0;color:#f2a200;-webkit-text-stroke:0.35px #f2a200">D</span>
<span class="t" style="left:1627.751px;top:153.749px;font-size:14px;transform:scaleX(0.975);transform-origin:0 0;color:#131722">25.15</span>
<span class="t" style="left:1661.909px;top:153.749px;font-size:14px;transform:scaleX(0.975);transform-origin:0 0;color:#f23645">5</span>
<span class="t" style="left:1727.228px;top:153.749px;font-size:14px;transform:scaleX(0.975);transform-origin:100% 0;color:#089981">30</span>
<span class="t" style="left:1766.204px;top:153.749px;font-size:14px;transform:scaleX(0.905);transform-origin:100% 0;color:#089981">0,12%</span>
<div class="abs" style="left:1500px;top:205px;width:322px;height:1px;background:#f0f1f5"></div>
<svg class="abs" style="left:1516px;top:182px" width="18" height="18" viewBox="0 0 18 18"><circle cx="9" cy="9" r="9" fill="#234a94"/><text x="9" y="11.6" font-size="7.5" font-weight="bold" fill="#fff" text-anchor="middle" textLength="12.5" lengthAdjust="spacingAndGlyphs">225</text></svg>
<div class="abs" style="left:1540px;top:181px;width:51.3px;height:20px;overflow:hidden"><span class="t" style="left:0.2px;top:2.749px;font-size:14px;transform:scaleX(0.865);transform-origin:0 0">NIKKEI</span></div>
<span class="t" style="left:1627.751px;top:183.749px;font-size:14px;transform:scaleX(0.975);transform-origin:0 0;color:#131722">42.9</span>
<span class="t" style="left:1654.317px;top:183.749px;font-size:14px;transform:scaleX(0.975);transform-origin:0 0;color:#f23645">65</span>
<span class="t" style="left:1711.266px;top:183.749px;font-size:14px;transform:scaleX(0.975);transform-origin:100% 0;color:#f23645">−417</span>
<span class="t" style="left:1758.028px;top:183.749px;font-size:14px;transform:scaleX(0.905);transform-origin:100% 0;color:#f23645">−0,96%</span>
<div class="abs" style="left:1500px;top:235px;width:322px;height:1px;background:#f0f1f5"></div>
<svg class="abs" style="left:1516px;top:212px" width="18" height="18" viewBox="0 0 18 18"><circle cx="9" cy="9" r="9" fill="#0a8f6e"/><text x="9" y="13.2" font-size="12" font-weight="bold" fill="#fff" text-anchor="middle">S</text></svg>
<div class="abs" style="left:1540px;top:211px;width:51.3px;height:20px;overflow:hidden"><span class="t" style="left:0.2px;top:2.749px;font-size:14px;transform:scaleX(0.809);transform-origin:0 0">DXY</span></div>
<span class="t" style="left:1627.751px;top:213.749px;font-size:14px;transform:scaleX(0.975);transform-origin:0 0;color:#f23645">97,824</span>
<span class="t" style="left:1707.766px;top:213.749px;font-size:14px;transform:scaleX(0.975);transform-origin:100% 0;color:#089981">0,005</span>
<span class="t" style="left:1766.204px;top:213.749px;font-size:14px;transform:scaleX(0.905);transform-origin:100% 0;color:#089981">0,01%</span>
<div class="abs" style="left:1500px;top:265px;width:322px;height:1px;background:#f0f1f5"></div>
<svg class="abs" style="left:1516px;top:242px" width="18" height="18" viewBox="0 0 18 18"><circle cx="9" cy="9" r="9" fill="#131722"/><path d="M9 3.6c2 2.6 3.4 4.5 3.4 6.4a3.4 3.4 0 0 1-6.8 0c0-1.9 1.4-3.8 3.4-6.4z" fill="#fff"/></svg>
<div class="abs" style="left:1540px;top:241px;width:51.3px;height:20px;overflow:hidden"><span class="t" style="left:0.2px;top:2.749px;font-size:14px;transform:scaleX(0.831);transform-origin:0 0">BRENTOIL</span></div>
<span class="t" style="left:1635.342px;top:243.749px;font-size:14px;transform:scaleX(0.975);transform-origin:0 0;color:#131722">66,3</span>
<span class="t" style="left:1661.909px;top:243.749px;font-size:14px;transform:scaleX(0.975);transform-origin:0 0;color:#f23645">4</span>
<span class="t" style="left:1715.552px;top:243.749px;font-size:14px;transform:scaleX(0.975);transform-origin:100% 0;color:#089981">0,39</span>
<span class="t" style="left:1766.204px;top:243.749px;font-size:14px;transform:scaleX(0.905);transform-origin:100% 0;color:#089981">0,59%</span>
<div class="abs" style="left:1500px;top:295px;width:322px;height:1px;background:#f0f1f5"></div>
<svg class="abs" style="left:1516px;top:272px" width="18" height="18" viewBox="0 0 18 18"><circle cx="9" cy="9" r="9" fill="#131722"/><path d="M9 3.6c2 2.6 3.4 4.5 3.4 6.4a3.4 3.4 0 0 1-6.8 0c0-1.9 1.4-3.8 3.4-6.4z" fill="#fff"/></svg>
<div class="abs" style="left:1540px;top:271px;width:51.3px;height:20px;overflow:hidden"><span class="t" style="left:0.2px;top:2.749px;font-size:14px;transform:scaleX(0.855);transform-origin:0 0">OIL</span></div>
<span class="t" style="left:1635.342px;top:273.749px;font-size:14px;transform:scaleX(0.975);transform-origin:0 0;color:#131722">62,3</span>
<span class="t" style="left:1661.909px;top:273.749px;font-size:14px;transform:scaleX(0.975);transform-origin:0 0;color:#089981">6</span>
<span class="t" style="left:1715.552px;top:273.749px;font-size:14px;transform:scaleX(0.975);transform-origin:100% 0;color:#089981">0,40</span>
<span class="t" style="left:1766.204px;top:273.749px;font-size:14px;transform:scaleX(0.905);transform-origin:100% 0;color:#089981">0,65%</span>
<div class="abs" style="left:1500px;top:325px;width:322px;height:1px;background:#f0f1f5"></div>
<svg class="abs" style="left:1516px;top:302px" width="18" height="18" viewBox="0 0 18 18"><circle cx="9" cy="9" r="9" fill="#131722"/><path d="M9 3.6c2 2.6 3.4 4.5 3.4 6.4a3.4 3.4 0 0 1-6.8 0c0-1.9 1.4-3.8 3.4-6.4z" fill="#fff"/></svg>
<div class="abs" style="left:1540px;top:301px;width:51.3px;height:20px;overflow:hidden"><span class="t" style="left:0.2px;top:2.749px;font-size:14px;transform:scaleX(0.829);transform-origin:0 0">BRENTV25</span></div>
<span class="t" style="left:1635.342px;top:303.749px;font-size:14px;transform:scaleX(0.975);transform-origin:0 0;color:#131722">66,3</span>
<span class="t" style="left:1661.909px;top:303.749px;font-size:14px;transform:scaleX(0.975);transform-origin:0 0;color:#089981">4</span>
<span class="t" style="left:1715.552px;top:303.749px;font-size:14px;transform:scaleX(0.975);transform-origin:100% 0;color:#089981">0,39</span>
<span class="t" style="left:1766.204px;top:303.749px;font-size:14px;transform:scaleX(0.905);transform-origin:100% 0;color:#089981">0,59%</span>
<div class="abs" style="left:1500px;top:355px;width:322px;height:1px;background:#f0f1f5"></div>
<svg class="abs" style="left:1516px;top:332px" width="18" height="18" viewBox="0 0 18 18"><circle cx="9" cy="9" r="9" fill="#0e9bc4"/><text x="9" y="11.6" font-size="7.5" font-weight="bold" fill="#fff" text-anchor="middle" textLength="12.5" lengthAdjust="spacingAndGlyphs">100</text></svg>
<div class="abs" style="left:1540px;top:331px;width:51.3px;height:20px;overflow:hidden"><span class="t" style="left:0.2px;top:2.749px;font-size:14px;transform:scaleX(0.885);transform-origin:0 0">NDA1!</span></div>
<span class="t" style="left:1582px;top:330.635px;font-size:10px;transform:scaleX(0.859);transform-origin:0 0;color:#f2a200;-webkit-text-stroke:0.35px #f2a200">D</span>
<span class="t" style="left:1635.342px;top:333.749px;font-size:14px;transform:scaleX(0.975);transform-origin:0 0;color:#131722">156,1</span>
<span class="t" style="left:1723.338px;top:333.749px;font-size:14px;transform:scaleX(0.975);transform-origin:100% 0;color:#131722">0,0</span>
<span class="t" style="left:1766.204px;top:333.749px;font-size:14px;transform:scaleX(0.905);transform-origin:100% 0;color:#131722">0,00%</span>
<div class="abs" style="left:1500px;top:385px;width:322px;height:1px;background:#f0f1f5"></div>
<svg class="abs" style="left:1516px;top:362px" width="19" height="19" viewBox="0 0 19 19"><clipPath id="p9q"><circle cx="12.7" cy="5.7" r="5.3"/></clipPath><g clip-path="url(#p9q)"><rect x="7.4" y="0.4" width="10.6" height="10.6" fill="#f5f5f5"/><rect x="7.4" y="0.4" width="10.6" height="1.514" fill="#ef5350"/><rect x="7.4" y="3.429" width="10.6" height="1.514" fill="#ef5350"/><rect x="7.4" y="6.457" width="10.6" height="1.514" fill="#ef5350"/><rect x="7.4" y="9.486" width="10.6" height="1.514" fill="#ef5350"/><rect x="7.4" y="0.4" width="5.565" height="5.83" fill="#4c6bd3"/></g><circle cx="6.2" cy="12.1" r="6.8" fill="#fff"/><circle cx="6.2" cy="12.1" r="5.95" fill="#1e5bb8"/><circle cx="9.651" cy="12.1" r="0.595" fill="#ffd54f"/><circle cx="9.189" cy="13.825" r="0.595" fill="#ffd54f"/><circle cx="7.926" cy="15.089" r="0.595" fill="#ffd54f"/><circle cx="6.2" cy="15.551" r="0.595" fill="#ffd54f"/><circle cx="4.475" cy="15.089" r="0.595" fill="#ffd54f"/><circle cx="3.211" cy="13.825" r="0.595" fill="#ffd54f"/><circle cx="2.749" cy="12.1" r="0.595" fill="#ffd54f"/><circle cx="3.211" cy="10.375" r="0.595" fill="#ffd54f"/><circle cx="4.474" cy="9.111" r="0.595" fill="#ffd54f"/><circle cx="6.2" cy="8.649" r="0.595" fill="#ffd54f"/><circle cx="7.926" cy="9.111" r="0.595" fill="#ffd54f"/><circle cx="9.189" cy="10.374" r="0.595" fill="#ffd54f"/></svg>
<div class="abs" style="left:1540px;top:361px;width:51.3px;height:20px;overflow:hidden"><span class="t" style="left:0.2px;top:2.749px;font-size:14px;transform:scaleX(0.817);transform-origin:0 0">EURUSD</span></div>
<span class="t" style="left:1622.328px;top:363.749px;font-size:14px;transform:scaleX(0.975);transform-origin:0 0;color:#089981">1,1643</span>
<span class="t" style="left:1664.077px;top:362.935px;font-size:10px;transform:scaleX(0.975);transform-origin:0 0;color:#089981">8</span>
<span class="t" style="left:1684.019px;top:363.749px;font-size:14px;transform:scaleX(0.975);transform-origin:100% 0;color:#f23645">−0,00027</span>
<span class="t" style="left:1758.028px;top:363.749px;font-size:14px;transform:scaleX(0.905);transform-origin:100% 0;color:#f23645">−0,02%</span>
<div class="abs" style="left:1500px;top:415px;width:322px;height:1px;background:#f0f1f5"></div>
<svg class="abs" style="left:1516px;top:392px" width="19" height="19" viewBox="0 0 19 19"><circle cx="12.7" cy="5.7" r="5.3" fill="#f3f3f8" stroke="#e4e4ee" stroke-width=".4"/><circle cx="12.7" cy="5.7" r="2.915" fill="#ef5350"/><circle cx="6.2" cy="12.1" r="6.8" fill="#fff"/><clipPath id="p10b"><circle cx="6.2" cy="12.1" r="5.95"/></clipPath><g clip-path="url(#p10b)"><rect x="0.25" y="6.15" width="11.9" height="11.9" fill="#f5f5f5"/><rect x="0.25" y="6.15" width="11.9" height="1.7" fill="#ef5350"/><rect x="0.25" y="9.55" width="11.9" height="1.7" fill="#ef5350"/><rect x="0.25" y="12.95" width="11.9" height="1.7" fill="#ef5350"/><rect x="0.25" y="16.35" width="11.9" height="1.7" fill="#ef5350"/><rect x="0.25" y="6.15" width="6.248" height="6.545" fill="#4c6bd3"/></g></svg>
<div class="abs" style="left:1540px;top:391px;width:51.3px;height:20px;overflow:hidden"><span class="t" style="left:0.2px;top:2.749px;font-size:14px;transform:scaleX(0.842);transform-origin:0 0">USDJPY</span></div>
<span class="t" style="left:1622.328px;top:393.749px;font-size:14px;transform:scaleX(0.975);transform-origin:0 0;color:#131722">147,4</span>
<span class="t" style="left:1656.486px;top:393.749px;font-size:14px;transform:scaleX(0.975);transform-origin:0 0;color:#089981">5</span>
<span class="t" style="left:1664.077px;top:392.935px;font-size:10px;transform:scaleX(0.975);transform-origin:0 0;color:#089981">0</span>
<span class="t" style="left:1699.591px;top:393.749px;font-size:14px;transform:scaleX(0.975);transform-origin:100% 0;color:#f23645">−0,205</span>
<span class="t" style="left:1758.028px;top:393.749px;font-size:14px;transform:scaleX(0.905);transform-origin:100% 0;color:#f23645">−0,14%</span>
<div class="abs" style="left:1500px;top:445px;width:322px;height:1px;background:#f0f1f5"></div>
<svg class="abs" style="left:1516px;top:422px" width="19" height="19" viewBox="0 0 19 19"><clipPath id="p11q"><circle cx="12.7" cy="5.7" r="5.3"/></clipPath><g clip-path="url(#p11q)"><rect x="7.4" y="0.4" width="10.6" height="10.6" fill="#f5f5f5"/><rect x="7.4" y="0.4" width="10.6" height="1.514" fill="#ef5350"/><rect x="7.4" y="3.429" width="10.6" height="1.514" fill="#ef5350"/><rect x="7.4" y="6.457" width="10.6" height="1.514" fill="#ef5350"/><rect x="7.4" y="9.486" width="10.6" height="1.514" fill="#ef5350"/><rect x="7.4" y="0.4" width="5.565" height="5.83" fill="#4c6bd3"/></g><circle cx="6.2" cy="12.1" r="6.8" fill="#fff"/><clipPath id="p11b"><circle cx="6.2" cy="12.1" r="5.95"/></clipPath><g clip-path="url(#p11b)"><rect x="0.25" y="6.15" width="11.9" height="11.9" fill="#1f3f94"/><path d="M0.25 6.15L6.2 12.1M6.2 6.15L0.25 12.1" stroke="#f5f5f5" stroke-width="2.083"/><path d="M3.225 6.15V12.1M0.25 9.125H6.2" stroke="#ef5350" stroke-width="1.785"/><circle cx="8.58" cy="13.29" r="0.714" fill="#fff"/><circle cx="4.117" cy="15.075" r="0.952" fill="#fff"/></g></svg>
<div class="abs" style="left:1540px;top:421px;width:51.3px;height:20px;overflow:hidden"><span class="t" style="left:0.2px;top:2.749px;font-size:14px;transform:scaleX(0.842);transform-origin:0 0">AUDUSD</span></div>
<span class="t" style="left:1622.328px;top:423.749px;font-size:14px;transform:scaleX(0.975);transform-origin:0 0;color:#131722">0,6434</span>
<span class="t" style="left:1664.077px;top:422.935px;font-size:10px;transform:scaleX(0.975);transform-origin:0 0;color:#f23645">7</span>
<span class="t" style="left:1684.019px;top:423.749px;font-size:14px;transform:scaleX(0.975);transform-origin:100% 0;color:#f23645">−0,00180</span>
<span class="t" style="left:1758.028px;top:423.749px;font-size:14px;transform:scaleX(0.905);transform-origin:100% 0;color:#f23645">−0,28%</span>
<div class="abs" style="left:1500px;top:475px;width:322px;height:1px;background:#f0f1f5"></div>
<svg class="abs" style="left:1516px;top:452px" width="19" height="19" viewBox="0 0 19 19"><circle cx="12.7" cy="5.7" r="5.3" fill="#ef5350"/><path d="M12.7 2.52V8.88M9.52 5.7H15.88" stroke="#fff" stroke-width="2.12"/><circle cx="6.2" cy="12.1" r="6.8" fill="#fff"/><clipPath id="p12b"><circle cx="6.2" cy="12.1" r="5.95"/></clipPath><g clip-path="url(#p12b)"><rect x="0.25" y="6.15" width="11.9" height="11.9" fill="#f5f5f5"/><rect x="0.25" y="6.15" width="11.9" height="1.7" fill="#ef5350"/><rect x="0.25" y="9.55" width="11.9" height="1.7" fill="#ef5350"/><rect x="0.25" y="12.95" width="11.9" height="1.7" fill="#ef5350"/><rect x="0.25" y="16.35" width="11.9" height="1.7" fill="#ef5350"/><rect x="0.25" y="6.15" width="6.248" height="6.545" fill="#4c6bd3"/></g></svg>
<div class="abs" style="left:1540px;top:451px;width:51.3px;height:20px;overflow:hidden"><span class="t" style="left:0.2px;top:2.749px;font-size:14px;transform:scaleX(0.83);transform-origin:0 0">USDCHF</span></div>
<span class="t" style="left:1622.328px;top:453.749px;font-size:14px;transform:scaleX(0.975);transform-origin:0 0;color:#131722">0,807</span>
<span class="t" style="left:1656.486px;top:453.749px;font-size:14px;transform:scaleX(0.975);transform-origin:0 0;color:#f23645">3</span>
<span class="t" style="left:1664.077px;top:452.935px;font-size:10px;transform:scaleX(0.975);transform-origin:0 0;color:#f23645">7</span>
<span class="t" style="left:1684.019px;top:453.749px;font-size:14px;transform:scaleX(0.975);transform-origin:100% 0;color:#f23645">−0,00037</span>
<span class="t" style="left:1758.028px;top:453.749px;font-size:14px;transform:scaleX(0.905);transform-origin:100% 0;color:#f23645">−0,05%</span>
<div class="abs" style="left:1500px;top:505px;width:322px;height:1px;background:#f0f1f5"></div>
<svg class="abs" style="left:1516px;top:482px" width="19" height="19" viewBox="0 0 19 19"><clipPath id="p13q"><circle cx="12.7" cy="5.7" r="5.3"/></clipPath><g clip-path="url(#p13q)"><rect x="7.4" y="0.4" width="10.6" height="10.6" fill="#f5f5f5"/><rect x="7.4" y="0.4" width="10.6" height="1.514" fill="#ef5350"/><rect x="7.4" y="3.429" width="10.6" height="1.514" fill="#ef5350"/><rect x="7.4" y="6.457" width="10.6" height="1.514" fill="#ef5350"/><rect x="7.4" y="9.486" width="10.6" height="1.514" fill="#ef5350"/><rect x="7.4" y="0.4" width="5.565" height="5.83" fill="#4c6bd3"/></g><circle cx="6.2" cy="12.1" r="6.8" fill="#fff"/><clipPath id="p13b"><circle cx="6.2" cy="12.1" r="5.95"/></clipPath><g clip-path="url(#p13b)"><rect x="0.25" y="6.15" width="11.9" height="11.9" fill="#3f51b5"/><path d="M0.25 6.15L12.15 18.05M12.15 6.15L0.25 18.05" stroke="#f5f5f5" stroke-width="2.975"/><path d="M0.25 6.15L12.15 18.05M12.15 6.15L0.25 18.05" stroke="#ef5350" stroke-width="1.19"/><path d="M6.2 6.15V18.05M0.25 12.1H12.15" stroke="#f5f5f5" stroke-width="4.165"/><path d="M6.2 6.15V18.05M0.25 12.1H12.15" stroke="#ef5350" stroke-width="2.38"/></g></svg>
<div class="abs" style="left:1540px;top:481px;width:51.3px;height:20px;overflow:hidden"><span class="t" style="left:0.2px;top:2.749px;font-size:14px;transform:scaleX(0.829);transform-origin:0 0">GBPUSD</span></div>
<span class="t" style="left:1622.328px;top:483.749px;font-size:14px;transform:scaleX(0.975);transform-origin:0 0;color:#131722">1,3500</span>
<span class="t" style="left:1664.077px;top:482.935px;font-size:10px;transform:scaleX(0.975);transform-origin:0 0;color:#f23645">6</span>
<span class="t" style="left:1692.195px;top:483.749px;font-size:14px;transform:scaleX(0.975);transform-origin:100% 0;color:#089981">0,00079</span>
<span class="t" style="left:1766.204px;top:483.749px;font-size:14px;transform:scaleX(0.905);transform-origin:100% 0;color:#089981">0,06%</span>
<div class="abs" style="left:1500px;top:535px;width:322px;height:1px;background:#f0f1f5"></div>
<svg class="abs" style="left:1516px;top:512px" width="19" height="19" viewBox="0 0 19 19"><clipPath id="p14q"><circle cx="12.7" cy="5.7" r="5.3"/></clipPath><g clip-path="url(#p14q)"><rect x="7.4" y="0.4" width="10.6" height="5.3" fill="#ef5350"/><rect x="7.4" y="5.7" width="10.6" height="5.3" fill="#f5f5f5"/></g><circle cx="6.2" cy="12.1" r="6.8" fill="#fff"/><clipPath id="p14b"><circle cx="6.2" cy="12.1" r="5.95"/></clipPath><g clip-path="url(#p14b)"><rect x="0.25" y="6.15" width="11.9" height="11.9" fill="#f5f5f5"/><rect x="0.25" y="6.15" width="11.9" height="1.7" fill="#ef5350"/><rect x="0.25" y="9.55" width="11.9" height="1.7" fill="#ef5350"/><rect x="0.25" y="12.95" width="11.9" height="1.7" fill="#ef5350"/><rect x="0.25" y="16.35" width="11.9" height="1.7" fill="#ef5350"/><rect x="0.25" y="6.15" width="6.248" height="6.545" fill="#4c6bd3"/></g></svg>
<div class="abs" style="left:1540px;top:511px;width:51.3px;height:20px;overflow:hidden"><span class="t" style="left:0.2px;top:2.749px;font-size:14px;transform:scaleX(0.837);transform-origin:0 0">USDIDR</span></div>
<span class="t" style="left:1618.536px;top:513.749px;font-size:14px;transform:scaleX(0.975);transform-origin:0 0;color:#131722">16.248,</span>
<span class="t" style="left:1664.077px;top:512.935px;font-size:10px;transform:scaleX(0.975);transform-origin:0 0;color:#089981">9</span>
<span class="t" style="left:1707.377px;top:513.749px;font-size:14px;transform:scaleX(0.975);transform-origin:100% 0;color:#f23645">−39,2</span>
<span class="t" style="left:1758.028px;top:513.749px;font-size:14px;transform:scaleX(0.905);transform-origin:100% 0;color:#f23645">−0,24%</span>
<div class="abs" style="left:1500px;top:565px;width:322px;height:1px;background:#f0f1f5"></div>
<svg class="abs" style="left:1516px;top:542px" width="18" height="18" viewBox="0 0 18 18"><clipPath id="c15"><circle cx="9" cy="9" r="9"/></clipPath><g clip-path="url(#c15)"><rect x="0" y="0" width="18" height="18" fill="#f5f5f5"/><rect x="0" y="0" width="18" height="2.571" fill="#ef5350"/><rect x="0" y="5.143" width="18" height="2.571" fill="#ef5350"/><rect x="0" y="10.286" width="18" height="2.571" fill="#ef5350"/><rect x="0" y="15.429" width="18" height="2.571" fill="#ef5350"/><rect x="0" y="0" width="9.45" height="9.9" fill="#4c6bd3"/></g></svg>
<div class="abs" style="left:1540px;top:541px;width:51.3px;height:20px;overflow:hidden"><span class="t" style="left:0.2px;top:2.749px;font-size:14px;transform:scaleX(0.938);transform-origin:0 0">DJIA1!</span></div>
<span class="t" style="left:1584px;top:540.635px;font-size:10px;transform:scaleX(0.859);transform-origin:0 0;color:#f2a200;-webkit-text-stroke:0.35px #f2a200">D</span>
<span class="t" style="left:1627.751px;top:543.749px;font-size:14px;transform:scaleX(0.975);transform-origin:0 0;color:#131722">44.8</span>
<span class="t" style="left:1654.317px;top:543.749px;font-size:14px;transform:scaleX(0.975);transform-origin:0 0;color:#089981">87</span>
<span class="t" style="left:1727.228px;top:543.749px;font-size:14px;transform:scaleX(0.975);transform-origin:100% 0;color:#089981">24</span>
<span class="t" style="left:1766.204px;top:543.749px;font-size:14px;transform:scaleX(0.905);transform-origin:100% 0;color:#089981">0,05%</span>
<div class="abs" style="left:1500px;top:595px;width:322px;height:1px;background:#f0f1f5"></div>
<svg class="abs" style="left:1516px;top:572px" width="18" height="18" viewBox="0 0 18 18"><circle cx="9" cy="9" r="9" fill="#1e5bb8"/><circle cx="14.22" cy="9" r="0.9" fill="#ffd54f"/><circle cx="13.521" cy="11.61" r="0.9" fill="#ffd54f"/><circle cx="11.61" cy="13.521" r="0.9" fill="#ffd54f"/><circle cx="9" cy="14.22" r="0.9" fill="#ffd54f"/><circle cx="6.39" cy="13.521" r="0.9" fill="#ffd54f"/><circle cx="4.479" cy="11.61" r="0.9" fill="#ffd54f"/><circle cx="3.78" cy="9" r="0.9" fill="#ffd54f"/><circle cx="4.479" cy="6.39" r="0.9" fill="#ffd54f"/><circle cx="6.39" cy="4.479" r="0.9" fill="#ffd54f"/><circle cx="9" cy="3.78" r="0.9" fill="#ffd54f"/><circle cx="11.61" cy="4.479" r="0.9" fill="#ffd54f"/><circle cx="13.521" cy="6.39" r="0.9" fill="#ffd54f"/></svg>
<div class="abs" style="left:1540px;top:571px;width:51.3px;height:20px;overflow:hidden"><span class="t" style="left:0.2px;top:2.749px;font-size:14px;transform:scaleX(0.835);transform-origin:0 0">EUR1</span></div>
<span class="t" style="left:1574.5px;top:570.635px;font-size:10px;transform:scaleX(0.859);transform-origin:0 0;color:#f2a200;-webkit-text-stroke:0.35px #f2a200">D</span>
<div class="abs" style="left:1585px;top:577.8px;width:6.4px;height:6.4px;border-radius:50%;background:#a3a6af"></div>
<span class="t" style="left:1623.958px;top:573.749px;font-size:14px;transform:scaleX(0.975);transform-origin:0 0;color:#131722">6.</span>
<span class="t" style="left:1635.342px;top:573.749px;font-size:14px;transform:scaleX(0.975);transform-origin:0 0;color:#089981">450,6</span>
<span class="t" style="left:1715.552px;top:573.749px;font-size:14px;transform:scaleX(0.975);transform-origin:100% 0;color:#089981">54,6</span>
<span class="t" style="left:1766.204px;top:573.749px;font-size:14px;transform:scaleX(0.905);transform-origin:100% 0;color:#089981">0,85%</span>
<div class="abs" style="left:1500px;top:625px;width:322px;height:1px;background:#f0f1f5"></div>
<svg class="abs" style="left:1516px;top:602px" width="19" height="19" viewBox="0 0 19 19"><circle cx="12.7" cy="5.7" r="5.3" fill="#f3f3f8" stroke="#e4e4ee" stroke-width=".4"/><circle cx="12.7" cy="5.7" r="2.915" fill="#ef5350"/><circle cx="6.2" cy="12.1" r="6.8" fill="#fff"/><clipPath id="p17b"><circle cx="6.2" cy="12.1" r="5.95"/></clipPath><g clip-path="url(#p17b)"><rect x="0.25" y="6.15" width="11.9" height="11.9" fill="#3f51b5"/><path d="M0.25 6.15L12.15 18.05M12.15 6.15L0.25 18.05" stroke="#f5f5f5" stroke-width="2.975"/><path d="M0.25 6.15L12.15 18.05M12.15 6.15L0.25 18.05" stroke="#ef5350" stroke-width="1.19"/><path d="M6.2 6.15V18.05M0.25 12.1H12.15" stroke="#f5f5f5" stroke-width="4.165"/><path d="M6.2 6.15V18.05M0.25 12.1H12.15" stroke="#ef5350" stroke-width="2.38"/></g></svg>
<div class="abs" style="left:1540px;top:601px;width:51.3px;height:20px;overflow:hidden"><span class="t" style="left:0.2px;top:2.749px;font-size:14px;transform:scaleX(0.853);transform-origin:0 0">GBPJPY</span></div>
<span class="t" style="left:1622.328px;top:603.749px;font-size:14px;transform:scaleX(0.975);transform-origin:0 0;color:#089981">199,07</span>
<span class="t" style="left:1664.077px;top:602.935px;font-size:10px;transform:scaleX(0.975);transform-origin:0 0;color:#089981">4</span>
<span class="t" style="left:1699.591px;top:603.749px;font-size:14px;transform:scaleX(0.975);transform-origin:100% 0;color:#f23645">−0,178</span>
<span class="t" style="left:1758.028px;top:603.749px;font-size:14px;transform:scaleX(0.905);transform-origin:100% 0;color:#f23645">−0,09%</span>
<div class="abs" style="left:1500px;top:655px;width:322px;height:1px;background:#f0f1f5"></div>
<svg class="abs" style="left:1516px;top:632px" width="19" height="19" viewBox="0 0 19 19"><circle cx="12.7" cy="5.7" r="5.3" fill="#f3f3f8" stroke="#e4e4ee" stroke-width=".4"/><circle cx="12.7" cy="5.7" r="2.915" fill="#ef5350"/><circle cx="6.2" cy="12.1" r="6.8" fill="#fff"/><circle cx="6.2" cy="12.1" r="5.95" fill="#1e5bb8"/><circle cx="9.651" cy="12.1" r="0.595" fill="#ffd54f"/><circle cx="9.189" cy="13.825" r="0.595" fill="#ffd54f"/><circle cx="7.926" cy="15.089" r="0.595" fill="#ffd54f"/><circle cx="6.2" cy="15.551" r="0.595" fill="#ffd54f"/><circle cx="4.475" cy="15.089" r="0.595" fill="#ffd54f"/><circle cx="3.211" cy="13.825" r="0.595" fill="#ffd54f"/><circle cx="2.749" cy="12.1" r="0.595" fill="#ffd54f"/><circle cx="3.211" cy="10.375" r="0.595" fill="#ffd54f"/><circle cx="4.474" cy="9.111" r="0.595" fill="#ffd54f"/><circle cx="6.2" cy="8.649" r="0.595" fill="#ffd54f"/><circle cx="7.926" cy="9.111" r="0.595" fill="#ffd54f"/><circle cx="9.189" cy="10.374" r="0.595" fill="#ffd54f"/></svg>
<div class="abs" style="left:1540px;top:631px;width:51.3px;height:20px;overflow:hidden"><span class="t" style="left:0.2px;top:2.749px;font-size:14px;transform:scaleX(0.842);transform-origin:0 0">EURJPY</span></div>
<span class="t" style="left:1622.328px;top:633.749px;font-size:14px;transform:scaleX(0.975);transform-origin:0 0;color:#131722">171,6</span>
<span class="t" style="left:1656.486px;top:633.749px;font-size:14px;transform:scaleX(0.975);transform-origin:0 0;color:#f23645">7</span>
<span class="t" style="left:1664.077px;top:632.935px;font-size:10px;transform:scaleX(0.975);transform-origin:0 0;color:#f23645">8</span>
<span class="t" style="left:1699.591px;top:633.749px;font-size:14px;transform:scaleX(0.975);transform-origin:100% 0;color:#f23645">−0,308</span>
<span class="t" style="left:1758.028px;top:633.749px;font-size:14px;transform:scaleX(0.905);transform-origin:100% 0;color:#f23645">−0,18%</span>
<div class="abs" style="left:1500.4px;top:86.3px;width:1319.6px;height:27.8px;border:2px solid #131722;border-radius:5px;width:319.6px"></div>
<svg class="abs" style="left:1501.6px;top:94.3px" width="11" height="13" viewBox="0 0 11 13"><path d="M0 0h10.4L7.2 6.2l3.2 6.2H0z" fill="#f7525f"/></svg>
<div class="abs" style="left:1820.3px;top:112px;width:1.7px;height:25px;background:#131722"></div>
</div></div>
<div id="detail"><div class="ov" style="left:-1500px;top:-661px">
<svg class="abs" style="left:1516px;top:673px" width="24" height="24" viewBox="0 0 18 18"><circle cx="9" cy="9" r="9" fill="#d9a200"/><path d="M6.9 5.2h4.2l1.3 3H5.6zM4.3 9.3h3.6l1 2.5H3zM10.1 9.3h3.6l1.3 2.5H9.1z" fill="#fffde7"/></svg>
<span class="t" style="left:1548.4px;top:677.849px;font-size:14px;transform:scaleX(0.88);transform-origin:0 0;font-weight:bold">GOLD</span>
<svg class="abs" style="left:1709px;top:675px" width="20" height="20" viewBox="1709 675 20 20" fill="none" stroke="#131722" stroke-width="1.1"><rect x="1710.6" y="676.6" width="6.6" height="6.6" rx="1.3"/><rect x="1720.6" y="676.6" width="6.6" height="6.6" rx="1.3"/><rect x="1710.6" y="686.6" width="6.6" height="6.6" rx="1.3"/><rect x="1720.6" y="686.6" width="6.6" height="6.6" rx="1.3"/></svg>
<svg class="abs" style="left:1746px;top:674px" width="24" height="22" viewBox="1746 674 24 22" fill="none" stroke="#131722" stroke-width="1.1" stroke-linejoin="round"><path d="M1757.8 676.6h-7.2a2.2 2.2 0 0 0-2.2 2.2v12.7a2.2 2.2 0 0 0 2.2 2.2h13.2a2.2 2.2 0 0 0 2.2-2.2v-4.6"/><path d="M1754.5 688.3v-3.2l8.5-8.5a1.2 1.2 0 0 1 1.7 0l2.1 2.1a1.2 1.2 0 0 1 0 1.7l-8.6 7.9zM1762 677.8l3.4 3.4"/></svg>
<svg class="abs" style="left:1784px;top:680px" width="24" height="11" viewBox="1784 680 24 11" fill="none" stroke="#131722" stroke-width="1.1"><circle cx="1788.5" cy="685.1" r="2.1"/><circle cx="1795.6" cy="685.1" r="2.1"/><circle cx="1802.6" cy="685.1" r="2.1"/></svg>
<span class="t" style="left:1516.5px;top:713.642px;font-size:12px;transform:scaleX(0.915);transform-origin:0 0">Gold</span>
<svg class="abs" style="left:1545px;top:713px" width="14" height="14" viewBox="1545 713 14 14" fill="none" stroke="#50535e" stroke-width="1"><path d="M1551.5 715.6h-3.6a1.3 1.3 0 0 0-1.3 1.3v7.4a1.3 1.3 0 0 0 1.3 1.3h7.4a1.3 1.3 0 0 0 1.3-1.3v-3.6M1553.6 714.6h4v4M1557.4 714.8l-5.4 5.4"/></svg>
<div class="abs" style="left:1564.2px;top:718.6px;width:2.6px;height:2.6px;border-radius:50%;background:#50535e"></div>
<span class="t" style="left:1573px;top:713.642px;font-size:12px;transform:scaleX(0.866);transform-origin:0 0">CAPITALCOM</span>
<span class="t" style="left:1516.5px;top:734.542px;font-size:12px;transform:scaleX(0.981);transform-origin:0 0;color:#9598a1">Komiditas</span>
<div class="abs" style="left:1574.2px;top:739.5px;width:2.6px;height:2.6px;border-radius:50%;background:#9598a1"></div>
<span class="t" style="left:1583.5px;top:734.542px;font-size:12px;transform:scaleX(0.948);transform-origin:0 0;color:#9598a1">Cfd</span>
<span class="t" style="left:1517.8px;top:769.144px;font-size:27px;transform:scaleX(1.134);transform-origin:0 0;font-weight:bold">3.326,0</span>
<span class="t" style="left:1620.3px;top:769.144px;font-size:27px;transform:scaleX(0.932);transform-origin:0 0;color:#0a8f76;font-weight:bold">7</span>
<span class="t" style="left:1639.8px;top:782.688px;font-size:11px;transform:scaleX(0.853);transform-origin:0 0">USD</span>
<span class="t" style="left:1668.9px;top:779.303px;font-size:15px;transform:scaleX(1.108);transform-origin:0 0;color:#0a8f76;font-weight:bold">+10,49</span>
<span class="t" style="left:1730px;top:779.303px;font-size:15px;transform:scaleX(1.037);transform-origin:0 0;color:#0a8f76;font-weight:bold">+0,32%</span>
<div class="abs" style="left:1521.2px;top:804.7px;width:8px;height:8px;border-radius:50%;background:#089981"></div>
<span class="t" style="left:1534.5px;top:801.995px;font-size:13px;transform:scaleX(0.935);transform-origin:0 0;color:#089981">Pasar buka</span>
<div class="abs" style="left:1517px;top:830.7px;width:288px;height:12px;border:1.5px solid #d1c9ea;border-radius:8px 8px 0 0;border-bottom:0"></div>
</div></div>
<div class="abs" style="left:1497.3px;top:787.5px;width:8.4px;height:25.6px;background:#fff;border:1px solid #e8e9ed;border-radius:4.2px"></div>
<svg class="abs" style="left:1498px;top:795px" width="6" height="10" viewBox="0 0 6 10"><path d="M1.6 1.8L4.6 5 1.6 8.2" fill="none" stroke="#c3c5cc" stroke-width="1"/></svg>
</body>
</html>
